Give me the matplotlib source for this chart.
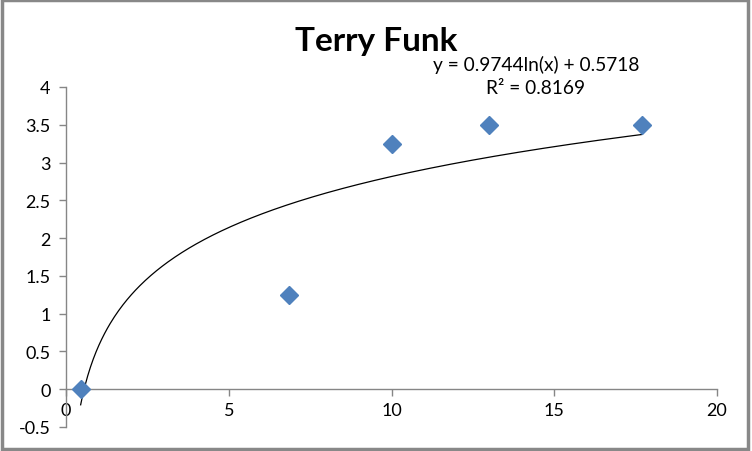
import numpy as np
import matplotlib
matplotlib.use("Agg")
import matplotlib.pyplot as plt
from matplotlib.patches import Rectangle

# Data
x_vals = [0.45, 6.85, 10.0, 13.0, 17.7]
y_vals = [0.0, 1.25, 3.25, 3.5, 3.5]
title = "Terry Funk"
# Logarithmic trendline (as reported in chart)
coef_a = 0.9744
coef_b = 0.5718
r_squared = 0.8169
x_ticks = [0, 5, 10, 15, 20]
y_ticks = [-0.5, 0, 0.5, 1, 1.5, 2, 2.5, 3, 3.5, 4]

plt.rcParams['font.family'] = ['Lato', 'DejaVu Sans']

fig = plt.figure(figsize=(7.52, 4.52), dpi=100)
ax = fig.add_axes([66/752, 1-428/452, (717-66)/752, (428-88)/452])

axis_col = '#868686'
ax.set_xlim(0, 20)
ax.set_ylim(-0.5, 4)

# trendline
xt = np.linspace(min(x_vals), max(x_vals), 400)
yt = coef_a * np.log(xt) + coef_b
ax.plot(xt, yt, color='black', lw=0.9, zorder=2)

ax.plot(x_vals, y_vals, linestyle='none', marker='D', markersize=9,
        color='#4F81BD', markeredgecolor='#4F81BD', zorder=3, clip_on=False)

for s in ['top', 'right']:
    ax.spines[s].set_visible(False)
ax.spines['bottom'].set_position(('data', 0))
for s in ['left', 'bottom']:
    ax.spines[s].set_color(axis_col)
    ax.spines[s].set_linewidth(1.0)

ax.set_xticks(x_ticks)
ax.set_xticklabels([str(v) for v in x_ticks])
ax.set_yticks(y_ticks)
ax.set_yticklabels([f"{v:g}" for v in y_ticks])
ax.tick_params(axis='both', colors=axis_col, labelcolor='black', labelsize=13,
               direction='out', length=5, width=1.0)
ax.tick_params(axis='y', pad=6)
ax.tick_params(axis='x', pad=4)

fig.text(0.5, 1-42/452, title, ha='center', va='center', fontsize=24,
         fontweight='bold')
fig.text(536/752, 1-65/452, f"y = {coef_a}ln(x) + {coef_b}", ha='center',
         va='center', fontsize=13.8)
fig.text(536/752, 1-89/452, f"R² = {r_squared}", ha='center', va='center',
         fontsize=13.8)

# outer border
fig.patches.append(Rectangle((0.002, 0.004), 0.993, 0.993, transform=fig.transFigure,
                             fill=False, edgecolor='#888888', lw=2.5))

fig.savefig('out.png', dpi=100)
